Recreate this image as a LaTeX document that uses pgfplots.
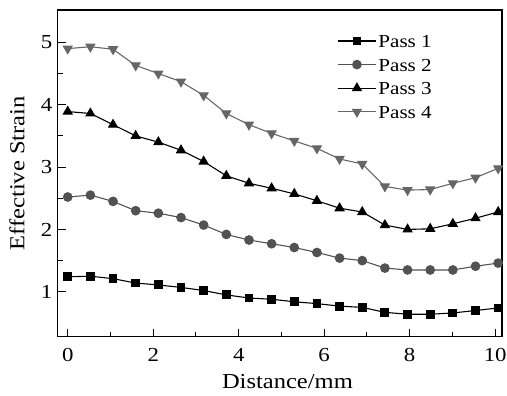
\documentclass[border=0pt]{standalone}
\usepackage{pgfplots}
\pgfplotsset{compat=1.18}
\usepackage{fontspec}
\setmainfont{Liberation Serif}[FakeStretch=1.15]
\definecolor{gtwo}{RGB}{82,82,82}
\definecolor{gfour}{RGB}{102,102,102}
\newcommand{\tickf}{\fontsize{20}{22}\selectfont}
\newcommand{\labf}{\fontsize{21.5}{24}\selectfont}
\newcommand{\legf}{\fontsize{18.5}{21}\selectfont}
\begin{document}
\begin{tikzpicture}
\useasboundingbox (-58bp,-59bp) rectangle (451bp,338bp);
\begin{axis}[
  name=ax,
  scale only axis,
  width=446bp, height=328bp,
  xmin=-0.233, xmax=10.16,
  ymin=0.28, ymax=5.52,
  xtick={0,2,4,6,8,10},
  ytick={1,2,3,4,5},
  minor x tick num=1,
  minor y tick num=1,
  tick align=inside,
  xtick pos=bottom, ytick pos=left,
  major tick length=8bp, minor tick length=5bp,
  axis line style={line width=1.3pt},
  every tick/.style={line width=1pt, black},
  /pgf/number format/assume math mode=true,
  ticklabel style={font=\tickf},
  xticklabel style={anchor=base, yshift=-25bp},
  yticklabel style={xshift=-2bp},
  label style={font=\labf},
  xlabel={Distance/mm},
  ylabel={Effective Strain},
  xlabel style={at={(axis description cs:0.517,0)}, anchor=base, yshift=-52bp},
  ylabel style={at={(axis description cs:-0.0919,0.5)}, anchor=center},
  legend style={draw=none, fill=none, font=\legf, at={(0.628,0.927)}, anchor=north west,
    row sep=9.7bp, column sep=1bp, inner sep=0pt, nodes={inner sep=0.5bp, text height=13bp, text depth=0bp}},
  legend cell align=left,
  legend image code/.code={\draw[mark repeat=2,mark phase=2,#1] plot coordinates {(0bp,0bp) (19.5bp,0bp) (39bp,0bp)};},
  every axis plot/.append style={line width=1.1pt},
]
\addplot[black, mark=square*, mark size=3.9bp, mark options={solid}] coordinates {
(0,1.24) (0.53,1.25) (1.06,1.21) (1.59,1.14) (2.12,1.11) (2.65,1.07) (3.18,1.02) (3.71,0.95) (4.24,0.90) (4.77,0.88) (5.30,0.84) (5.83,0.81) (6.36,0.77) (6.89,0.75) (7.42,0.67) (7.95,0.64) (8.48,0.64) (9.01,0.66) (9.54,0.70) (10.07,0.74)};
\addlegendentry{Pass 1}
\addplot[gtwo, mark=*, mark size=4.3bp, mark options={solid,fill=gtwo}] coordinates {
(0,2.52) (0.53,2.55) (1.06,2.45) (1.59,2.30) (2.12,2.26) (2.65,2.19) (3.18,2.07) (3.71,1.92) (4.24,1.83) (4.77,1.77) (5.30,1.71) (5.83,1.63) (6.36,1.54) (6.89,1.50) (7.42,1.38) (7.95,1.35) (8.48,1.35) (9.01,1.35) (9.54,1.41) (10.07,1.46)};
\addlegendentry{Pass 2}
\addplot[black, mark=triangle*, mark size=5bp, mark options={solid}] coordinates {
(0,3.89) (0.53,3.86) (1.06,3.68) (1.59,3.50) (2.12,3.40) (2.65,3.27) (3.18,3.09) (3.71,2.86) (4.24,2.74) (4.77,2.66) (5.30,2.57) (5.83,2.46) (6.36,2.34) (6.89,2.28) (7.42,2.07) (7.95,2.00) (8.48,2.01) (9.01,2.09) (9.54,2.18) (10.07,2.28)};
\addlegendentry{Pass 3}
\addplot[gfour, mark=triangle*, mark size=5bp, mark options={solid,rotate=180,fill=gfour}] coordinates {
(0,4.90) (0.53,4.93) (1.06,4.89) (1.59,4.63) (2.12,4.50) (2.65,4.37) (3.18,4.15) (3.71,3.86) (4.24,3.68) (4.77,3.54) (5.30,3.42) (5.83,3.30) (6.36,3.13) (6.89,3.05) (7.42,2.69) (7.95,2.63) (8.48,2.64) (9.01,2.74) (9.54,2.83) (10.07,2.98)};
\addlegendentry{Pass 4}
\end{axis}
\end{tikzpicture}
\end{document}
